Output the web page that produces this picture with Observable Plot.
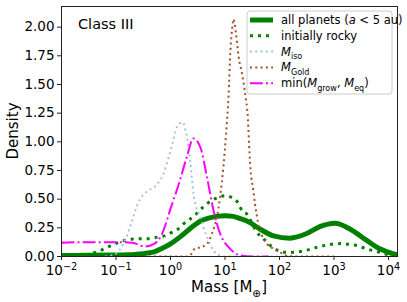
<!DOCTYPE html>
<html><head><meta charset="utf-8">
<script src="https://cdn.jsdelivr.net/npm/d3@7"></script>
<script src="https://cdn.jsdelivr.net/npm/@observablehq/plot@0.6"></script>
<style>body{margin:0;background:#fff} svg{display:block}</style>
</head><body><div id="chart"></div>
<script>
// ---- tick values ----
const xTicks = [0.01, 0.1, 1, 10, 100, 1000, 10000];
const xTickExp = ["−2", "−1", "0", "1", "2", "3", "4"];
const yTicks = [0, 0.25, 0.5, 0.75, 1.0, 1.25, 1.5, 1.75, 2.0];

// ---- series (log10 mass, density) ----
const allLogM = [-2, -1.5, -1.0, -0.78, -0.5, -0.3, -0.17, 0.0, 0.2, 0.4, 0.55, 0.7, 0.85, 1.0, 1.15, 1.28, 1.4, 1.64, 1.89, 2.19, 2.5, 2.74, 3.02, 3.29, 3.6, 3.84, 4.09, 4.165];
const allDens = [0.008, 0.01, 0.012, 0.015, 0.025, 0.04, 0.067, 0.11, 0.18, 0.26, 0.31, 0.335, 0.35, 0.355, 0.35, 0.33, 0.31, 0.24, 0.18, 0.16, 0.2, 0.26, 0.29, 0.24, 0.14, 0.067, 0.023, 0.015];

const rockyLogM = [-2, -1.8, -1.57, -1.42, -1.3, -1.18, -1.02, -0.9, -0.78, -0.6, -0.39, -0.23, -0.11, 0.0, 0.14, 0.24, 0.45, 0.55, 0.76, 0.91, 1.0, 1.1, 1.25, 1.31, 1.40, 1.55, 1.64, 1.74, 1.83, 1.95, 2.07, 2.19, 2.35, 2.47, 2.59, 2.74, 2.87, 3.02, 3.14, 3.29, 3.42, 3.54, 3.66, 3.78, 3.93, 4.08, 4.165];
const rockyDens = [0.002, 0.006, 0.015, 0.03, 0.05, 0.076, 0.11, 0.13, 0.148, 0.154, 0.155, 0.17, 0.18, 0.205, 0.24, 0.285, 0.36, 0.41, 0.49, 0.52, 0.53, 0.52, 0.46, 0.40, 0.37, 0.24, 0.18, 0.14, 0.096, 0.058, 0.038, 0.035, 0.04, 0.052, 0.067, 0.087, 0.1, 0.11, 0.113, 0.105, 0.096, 0.076, 0.058, 0.044, 0.023, 0.008, 0.004];

const isoLogM = [-1.2, -1.08, -0.9, -0.81, -0.72, -0.6, -0.41, -0.31, -0.23, -0.13, -0.05, 0.0, 0.12, 0.22, 0.30, 0.36, 0.42, 0.545, 0.67, 0.79, 0.9, 1.0, 1.2, 2.2];
const isoDens = [0, 0.01, 0.08, 0.17, 0.29, 0.46, 0.575, 0.60, 0.64, 0.72, 0.84, 0.92, 1.13, 1.17, 1.04, 0.84, 0.55, 0.34, 0.17, 0.05, 0.01, 0, 0, 0];

const goldLogM = [-0.4, 0.3, 0.36, 0.45, 0.545, 0.67, 0.76, 0.85, 0.91, 0.97, 1.02, 1.065, 1.10, 1.13, 1.156, 1.2, 1.25, 1.31, 1.37, 1.42, 1.45, 1.47, 1.52, 1.55, 1.58, 1.61, 1.68, 1.77, 1.89, 2.01, 2.1, 2.3, 3.0];
const goldDens = [0, 0, 0.01, 0.07, 0.08, 0.11, 0.2, 0.34, 0.52, 0.78, 1.07, 1.4, 1.80, 1.98, 2.07, 1.95, 1.74, 1.6, 1.42, 1.2, 0.9, 0.75, 0.575, 0.46, 0.37, 0.285, 0.18, 0.11, 0.067, 0.038, 0.01, 0, 0];

const minLogM = [-2, -1.5, -1.0, -0.7, -0.47, -0.3, -0.17, 0.01, 0.17, 0.30, 0.42, 0.55, 0.67, 0.79, 0.91, 1.095, 1.28, 1.5, 1.8];
const minDens = [0.12, 0.125, 0.125, 0.12, 0.087, 0.11, 0.183, 0.43, 0.66, 0.87, 1.03, 0.95, 0.69, 0.40, 0.20, 0.067, 0.01, 0, 0];

const rows = (lm, d) => lm.map((l, i) => ({mass: Math.pow(10, l), density: d[i]}));

const styles = {
  all:   {stroke: "#008000", strokeWidth: 5, strokeDasharray: null},
  rocky: {stroke: "#008000", strokeWidth: 3, strokeDasharray: "3 5"},
  iso:   {stroke: "#a6c1dd", strokeWidth: 2, strokeDasharray: "2 3.3"},
  gold:  {stroke: "#9c5530", strokeWidth: 2, strokeDasharray: "2 3.3"},
  min:   {stroke: "#ff00ff", strokeWidth: 2, strokeDasharray: "12.8 3.2 2 3.2"}
};
const lineOpts = (s) => ({x: "mass", y: "density", curve: "monotone-x", strokeLinecap: "butt", clip: true,
  stroke: s.stroke, strokeWidth: s.strokeWidth, ...(s.strokeDasharray ? {strokeDasharray: s.strokeDasharray} : {})});

const plot = Plot.plot({
  width: 407, height: 302,
  marginLeft: 61, marginRight: 10, marginTop: 6, marginBottom: 46,
  style: {fontFamily: "DejaVu Sans", fontSize: "13.5px", background: "#fff", color: "#000"},
  x: {type: "log", domain: [0.01, 14620]},
  y: {domain: [0, 2.18]},
  marks: [
    Plot.line(rows(allLogM, allDens), lineOpts(styles.all)),
    Plot.line(rows(rockyLogM, rockyDens), lineOpts(styles.rocky)),
    Plot.line(rows(isoLogM, isoDens), lineOpts(styles.iso)),
    Plot.line(rows(goldLogM, goldDens), lineOpts(styles.gold)),
    Plot.line(rows(minLogM, minDens), lineOpts(styles.min)),
    Plot.frame({stroke: "#222", strokeWidth: 1}),
    Plot.axisX({ticks: xTicks, tickSize: 4, tickPadding: 5, label: null, stroke: "#222",
      tickFormat: (d) => "10^" + xTickExp[xTicks.indexOf(d)]}),
    Plot.axisY({ticks: yTicks, tickSize: 4, tickPadding: 3, label: null, stroke: "#222",
      tickFormat: d3.format(".2f")})
  ]
});

const svg = d3.select(plot);
// superscript exponents on x tick labels
svg.selectAll('g[aria-label="x-axis tick label"] text').each(function() {
  const t = d3.select(this);
  const [b, e] = t.text().split("^");
  t.text(b);
  t.append("tspan").attr("dy", "-0.5em").attr("font-size", "72%").text(e);
});

function richText(sel, parts, fs) {
  let shifted = 0;
  parts.forEach(p => {
    const ts = sel.append("tspan").text(p.t);
    const want = p.sub ? fs * 0.3 : 0;
    if (want !== shifted) { ts.attr("dy", want - shifted); shifted = want; }
    if (p.sub) ts.attr("font-size", fs * 0.7);
    if (p.i) ts.attr("font-style", "italic");
  });
}

// axis labels
const xl = svg.append("text").attr("x", 229).attr("y", 292).attr("text-anchor", "middle")
  .attr("font-size", 15).attr("fill", "#000");
richText(xl, [{t: "Mass [M"}, {t: "⊕", sub: true}, {t: "]"}], 15);
svg.append("text").attr("transform", "translate(18,131) rotate(-90)").attr("text-anchor", "middle")
  .attr("font-size", 15).attr("fill", "#000").text("Density");
svg.append("text").attr("x", 78).attr("y", 29).attr("text-anchor", "start").attr("font-size", 14.5)
  .attr("fill", "#000").text("Class III");

// legend
const lg = svg.append("g").attr("text-anchor", "start");
lg.append("rect").attr("x", 247).attr("y", 11).attr("width", 145).attr("height", 83).attr("rx", 3)
  .attr("fill", "#fff").attr("fill-opacity", 0.8).attr("stroke", "#ccc");
const legendItems = [
  {s: styles.all, parts: [{t: "all planets ("}, {t: "a", i: true}, {t: " < 5 au)"}]},
  {s: styles.rocky, parts: [{t: "initially rocky"}]},
  {s: styles.iso, parts: [{t: "M", i: true}, {t: "iso", sub: true}]},
  {s: styles.gold, parts: [{t: "M", i: true}, {t: "Gold", sub: true}]},
  {s: styles.min, parts: [{t: "min("}, {t: "M", i: true}, {t: "grow", sub: true}, {t: ", "}, {t: "M", i: true}, {t: "eq", sub: true}, {t: ")"}]}
];
const lfs = 11.5;
legendItems.forEach((it, k) => {
  const yy = 20 + k * 15.8;
  const ln = lg.append("line").attr("x1", 250).attr("x2", 273).attr("y1", yy).attr("y2", yy)
    .attr("stroke", it.s.stroke).attr("stroke-width", it.s.strokeWidth).attr("stroke-linecap", "butt");
  if (it.s.strokeDasharray) ln.attr("stroke-dasharray", it.s.strokeDasharray);
  const tx = lg.append("text").attr("x", 281).attr("y", yy + 4).attr("text-anchor", "start")
    .attr("font-size", lfs).attr("fill", "#000");
  richText(tx, it.parts, lfs);
});

document.getElementById("chart").appendChild(plot);
</script></body></html>
